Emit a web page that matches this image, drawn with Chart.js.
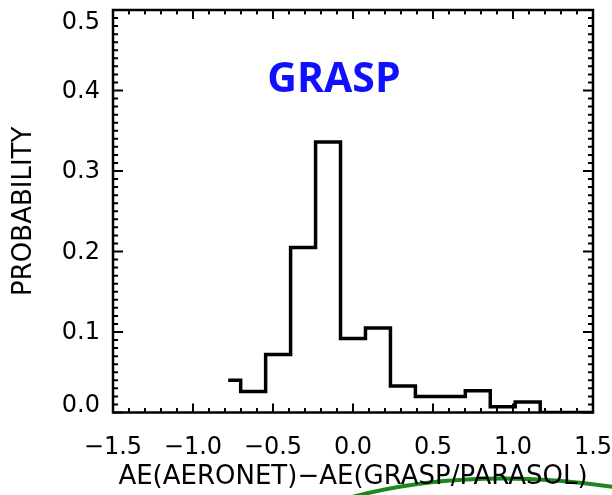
<!DOCTYPE html>
<html>
<head>
<meta charset="utf-8">
<script src="https://cdn.jsdelivr.net/npm/chart.js@4.4.1/dist/chart.umd.min.js"></script>
<style>
  html, body { margin: 0; padding: 0; background: #fff; }
  canvas { display: block; }
</style>
</head>
<body>
<canvas id="histChart" width="612" height="495"></canvas>
<script>
// bin centres (AE difference) and probability of each bin
const binCenters = [-0.78, -0.624, -0.468, -0.312, -0.156, 0.0, 0.156, 0.312, 0.468, 0.624, 0.78, 0.936, 1.092, 1.248, 1.404, 1.56];
const probability = [0.040, 0.026, 0.072, 0.205, 0.336, 0.092, 0.105, 0.033, 0.020, 0.020, 0.027, 0.007, 0.013, 0.0, 0.0, 0.0];
const xTicks = [-1.5, -1.0, -0.5, 0.0, 0.5, 1.0, 1.5];
const yTicks = [0.0, 0.1, 0.2, 0.3, 0.4, 0.5];
const panelLabel = "GRASP";
const xTitle = "AE(AERONET)\u2212AE(GRASP/PARASOL)";
const yTitle = "PROBABILITY";

const FONT = "'DejaVu Sans', sans-serif";

function fmt(v) {
  const s = Math.abs(v).toFixed(1);
  return v < -1e-9 ? "\u2212" + s : s;
}

// IDL style box with inward ticks, y labels and the panel name
const idlFrame = {
  id: "idlFrame",
  beforeDraw(chart) {
    // bit of the next panel's green curve showing at the bottom edge
    const ctx = chart.ctx;
    ctx.save();
    ctx.strokeStyle = "#1a8a1a";
    ctx.lineWidth = 4;
    ctx.beginPath();
    ctx.moveTo(352, 497);
    ctx.quadraticCurveTo(470, 466, 614, 487);
    ctx.stroke();
    ctx.restore();
  },
  afterDraw(chart) {
    const ctx = chart.ctx;
    const a = chart.chartArea;
    const xs = chart.scales.x;
    const ys = chart.scales.y;
    ctx.save();
    ctx.strokeStyle = "#000";
    ctx.lineWidth = 2.5;
    ctx.strokeRect(a.left, a.top, a.right - a.left, a.bottom - a.top);

    ctx.lineWidth = 2;
    ctx.beginPath();
    // x ticks every 0.1, major every 0.5
    for (let i = 0; i <= 30; i++) {
      const v = -1.5 + i * 0.1;
      const px = xs.getPixelForValue(v);
      const len = i % 5 === 0 ? 9 : 4.5;
      ctx.moveTo(px, a.bottom); ctx.lineTo(px, a.bottom - len);
      ctx.moveTo(px, a.top); ctx.lineTo(px, a.top + len);
    }
    // y ticks every 0.01, major every 0.1
    for (let i = 0; i <= 50; i++) {
      const v = i * 0.01;
      const py = ys.getPixelForValue(v);
      const len = i % 10 === 0 ? 10 : 5;
      ctx.moveTo(a.left, py); ctx.lineTo(a.left + len, py);
      ctx.moveTo(a.right, py); ctx.lineTo(a.right - len, py);
    }
    ctx.stroke();

    // y tick labels, pulled inside at the ends like IDL does
    ctx.fillStyle = "#000";
    ctx.font = "24px " + FONT;
    ctx.textAlign = "right";
    ctx.textBaseline = "middle";
    ys.ticks.forEach(t => {
      let py = ys.getPixelForValue(t.value);
      py = Math.min(Math.max(py, a.top + 12), a.bottom - 8);
      ctx.fillText(t.value.toFixed(1), a.left - 13, py + 1);
    });

    ctx.fillStyle = "#1010ff";
    ctx.font = "bold 41px 'Open Sans', sans-serif";
    ctx.textAlign = "center";
    ctx.fillText(panelLabel, 334, 80);
    ctx.restore();
  }
};

const graph = document.getElementById("histChart");

new Chart(graph, {
  type: "line",
  data: {
    datasets: [{
      data: binCenters.map((x, i) => ({ x: x, y: probability[i] })),
      stepped: "middle",
      borderColor: "#000",
      borderWidth: 3.5,
      pointRadius: 0,
      fill: false
    }]
  },
  options: {
    responsive: false,
    devicePixelRatio: 1,
    animation: false,
    layout: { padding: { left: 0, right: 19, top: 10, bottom: 0 } },
    plugins: {
      legend: { display: false },
      tooltip: { enabled: false }
    },
    scales: {
      x: {
        type: "linear",
        min: -1.5,
        max: 1.5,
        afterBuildTicks: s => { s.ticks = xTicks.map(v => ({ value: v })); },
        afterFit: s => {
          s.height = 82.5;
          s.paddingLeft = 0;
          s.paddingRight = 0;
        },
        grid: { display: false, drawTicks: false },
        border: { display: false },
        ticks: {
          color: "#000",
          font: { family: FONT, size: 24 },
          padding: 21,
          maxRotation: 0,
          autoSkip: false,
          callback: v => fmt(v)
        },
        title: {
          display: true,
          text: xTitle,
          color: "#000",
          font: { family: FONT, size: 26, lineHeight: 1 },
          padding: { top: 0, bottom: 5 }
        }
      },
      y: {
        type: "linear",
        min: 0,
        max: 0.5,
        afterBuildTicks: s => { s.ticks = yTicks.map(v => ({ value: v })); },
        afterFit: s => {
          s.width = 113;
          s.paddingTop = 0;
          s.paddingBottom = 0;
        },
        grid: { display: false, drawTicks: false },
        border: { display: false },
        ticks: { display: false },
        title: {
          display: true,
          text: yTitle,
          color: "#000",
          font: { family: FONT, size: 26, lineHeight: 1 },
          padding: { top: 11, bottom: 0 }
        }
      }
    }
  },
  plugins: [idlFrame]
});
</script>
</body>
</html>
